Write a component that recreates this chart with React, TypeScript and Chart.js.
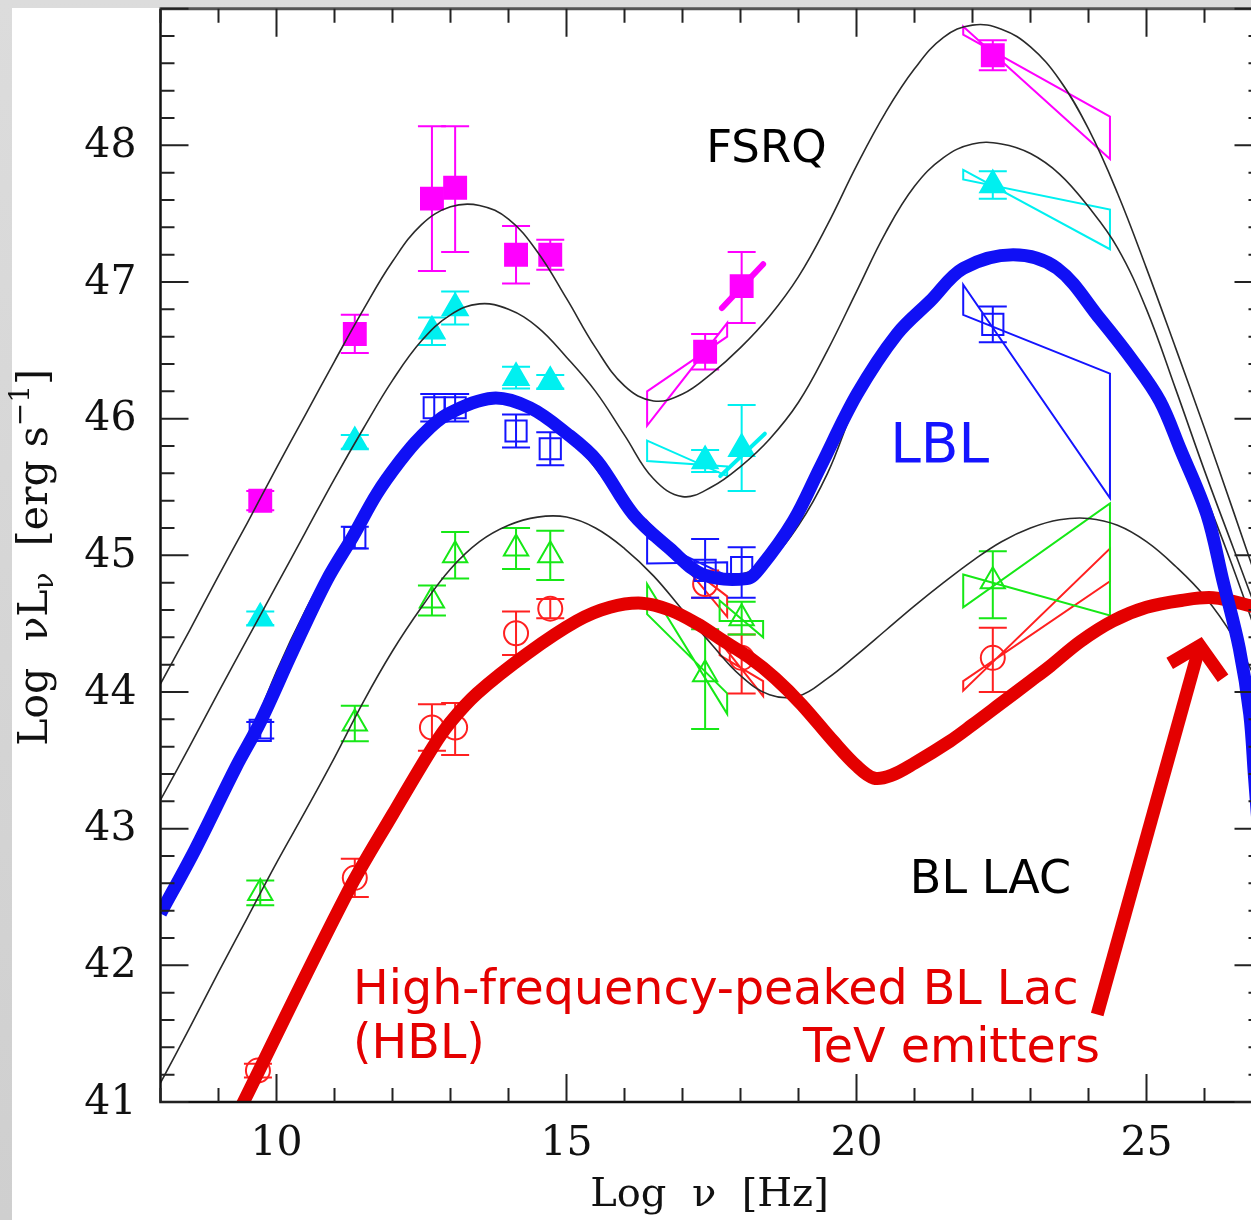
import React, { useEffect, useRef } from 'react';
import { Chart, registerables } from 'chart.js';

Chart.register(...registerables);

// ---------------- axes ----------------
const xRange = [8, 27];
const yRange = [41, 49];
const xTickLabels = [10, 15, 20, 25];
const yTickLabels = [41, 42, 43, 44, 45, 46, 47, 48];

// ---------------- model curves (thin black), sampled every 0.5 in log nu ----------------
const modelGridX = [8, 8.5, 9, 9.5, 10, 10.5, 11, 11.5, 12, 12.5, 13, 13.5, 14, 14.5, 15, 15.5, 16, 16.5, 17, 17.5, 18, 18.5, 19, 19.5, 20, 20.5, 21, 21.5, 22, 22.5, 23, 23.5, 24, 24.5, 25, 25.5, 26, 26.5, 27];
const fsrqTopModelY = [44.06, 44.45, 44.85, 45.24, 45.64, 46.03, 46.42, 46.8, 47.15, 47.42, 47.55, 47.56, 47.46, 47.22, 46.88, 46.52, 46.24, 46.13, 46.18, 46.33, 46.52, 46.75, 47.04, 47.42, 47.85, 48.24, 48.56, 48.79, 48.88, 48.85, 48.72, 48.48, 48.12, 47.65, 47.1, 46.52, 45.93, 45.32, 44.7];
const fsrqLowModelY = [43.21, 43.6, 44.0, 44.39, 44.78, 45.17, 45.56, 45.93, 46.28, 46.57, 46.76, 46.84, 46.8, 46.67, 46.45, 46.2, 45.88, 45.56, 45.43, 45.5, 45.65, 45.85, 46.12, 46.5, 46.93, 47.36, 47.7, 47.91, 48.01, 48.01, 47.94, 47.79, 47.55, 47.25, 46.8, 46.22, 45.62, 45.05, 44.48];
const lblModelY = [42.4, 42.75, 43.12, 43.62, 44.15, 44.6, 44.98, 45.33, 45.62, 45.86, 46.05, 46.14, 46.14, 46.05, 45.88, 45.64, 45.35, 45.12, 44.96, 44.87, 44.86, 44.97, 45.22, 45.6, 46.12, 46.48, 46.74, 46.96, 47.12, 47.19, 47.17, 47.05, 46.87, 46.6, 46.3, 45.92, 45.45, 44.9, 44.3];
const blLacModelY = [41.14, 41.54, 41.95, 42.35, 42.75, 43.13, 43.52, 43.93, 44.3, 44.62, 44.9, 45.1, 45.22, 45.28, 45.28, 45.2, 45.05, 44.85, 44.6, 44.35, 44.12, 43.98, 43.97, 44.1, 44.27, 44.45, 44.63, 44.8, 44.96, 45.1, 45.2, 45.26, 45.27, 45.22, 45.1, 44.92, 44.7, 44.4, 44.0];

// ---------------- thick sketched curves ----------------
const lblThickX = [8, 8.6, 9.3, 9.72, 10.28, 10.87, 11.32, 11.73, 12.13, 12.47, 12.94, 13.73, 14.37, 15.01, 15.53, 16.15, 16.78, 17.35, 18.11, 18.34, 18.91, 19.37, 20.01, 20.7, 21.27, 21.84, 22.7, 23.46, 24.2, 24.77, 25.23, 25.58, 26.04, 26.32, 26.6, 26.78, 26.86, 27];
const lblThickY = [42.38, 42.85, 43.45, 43.78, 44.3, 44.82, 45.14, 45.45, 45.69, 45.86, 46.03, 46.15, 46.08, 45.89, 45.69, 45.3, 45.05, 44.86, 44.83, 44.91, 45.25, 45.64, 46.18, 46.62, 46.86, 47.1, 47.2, 47.1, 46.73, 46.42, 46.13, 45.78, 45.3, 44.81, 44.32, 43.84, 43.39, 42.6];

const hblThickX = [9.35, 11.22, 12.01, 12.7, 13.0, 13.46, 14.32, 15.18, 15.75, 16.3, 16.78, 17.25, 17.65, 18.16, 18.6, 19.05, 19.6, 20.0, 20.3, 20.6, 21.0, 21.61, 22.0, 22.47, 23.0, 23.34, 23.86, 24.42, 25.0, 25.6, 26.15, 26.8, 27];
const hblThickY = [40.93, 42.53, 43.11, 43.6, 43.78, 43.99, 44.28, 44.52, 44.62, 44.65, 44.6, 44.5, 44.39, 44.25, 44.1, 43.91, 43.64, 43.46, 43.37, 43.39, 43.48, 43.64, 43.76, 43.91, 44.08, 44.19, 44.37, 44.52, 44.62, 44.67, 44.69, 44.63, 44.6];

// ---------------- data points ----------------
const magentaX = [9.72, 11.35, 12.68, 13.08, 14.13, 14.72, 17.39, 18.02, 22.35];
const magentaY = [45.4, 46.62, 47.61, 47.69, 47.2, 47.2, 46.49, 46.97, 48.66];
const magentaErrUp = [0.07, 0.14, 0.53, 0.45, 0.21, 0.11, 0.13, 0.25, 0.11];
const magentaErrDown = [0.07, 0.14, 0.53, 0.47, 0.21, 0.11, 0.13, 0.27, 0.11];

const cyanX = [9.72, 11.35, 12.68, 13.08, 14.13, 14.72, 17.39, 18.02, 22.35];
const cyanY = [44.54, 45.83, 46.64, 46.81, 46.3, 46.27, 45.69, 45.78, 47.71];
const cyanErrUp = [0.05, 0.05, 0.1, 0.12, 0.08, 0.05, 0.08, 0.32, 0.1];
const cyanErrDown = [0.05, 0.05, 0.1, 0.12, 0.08, 0.05, 0.08, 0.31, 0.1];

const blueX = [9.72, 11.35, 12.72, 13.08, 14.13, 14.72, 17.39, 18.02, 22.35];
const blueY = [43.72, 45.13, 46.08, 46.08, 45.91, 45.78, 44.89, 44.91, 46.69];
const blueErrUp = [0.06, 0.08, 0.1, 0.1, 0.12, 0.12, 0.23, 0.15, 0.13];
const blueErrDown = [0.06, 0.08, 0.1, 0.1, 0.12, 0.12, 0.2, 0.22, 0.13];

const greenX = [9.72, 11.35, 12.68, 13.08, 14.13, 14.72, 17.39, 18.02, 22.35];
const greenY = [42.53, 43.77, 44.67, 45.0, 45.05, 45.0, 44.13, 44.54, 44.81];
const greenErrUp = [0.09, 0.13, 0.11, 0.17, 0.15, 0.18, 0.33, 0.12, 0.22];
const greenErrDown = [0.09, 0.13, 0.11, 0.17, 0.15, 0.18, 0.4, 0.12, 0.27];

const redX = [9.68, 11.35, 12.68, 13.08, 14.13, 14.72, 17.39, 18.02, 22.35];
const redY = [41.23, 42.64, 43.74, 43.74, 44.43, 44.61, 44.79, 44.25, 44.25];
const redErrUp = [0.05, 0.14, 0.17, 0.18, 0.16, 0.07, 0.1, 0.17, 0.22];
const redErrDown = [0.05, 0.14, 0.17, 0.2, 0.16, 0.07, 0.1, 0.26, 0.25];

// ---------------- spectral bow-ties: [leftTop, leftBottom, rightTop, rightBottom] ----------------
const gammaBowX = [21.84, 24.37];
const gammaBowMagenta = [48.87, 48.81, 48.21, 47.9];
const gammaBowCyan = [47.82, 47.75, 47.53, 47.24];
const gammaBowBlue = [46.98, 46.76, 46.33, 45.42];
const gammaBowGreen = [44.86, 44.62, 45.38, 44.56];
const gammaBowRed = [44.08, 44.01, 45.05, 44.81];

const xrayBowX = [16.39, 17.77];
const xrayBowMagenta = [46.2, 45.95, 46.7, 46.6];
const xrayBowCyan = [45.84, 45.69, 45.65, 45.58];
const xrayBowBlue = [45.13, 44.94, 44.95, 44.85];
const xrayBowRed = [45.25, 45.15, 44.7, 44.55];
const xrayBowGreen = [44.79, 44.57, 43.99, 43.84];

const hardXrayBowX = [17.64, 18.39];
const hardXrayBowGreen = [44.67, 44.52, 44.52, 44.4];
const hardXrayBowRed = [44.37, 44.27, 44.08, 43.97];

// hard X-ray slopes: [x0, y0, x1, y1]
const magentaSlope = [17.68, 46.81, 18.39, 47.13];
const cyanSlope = [17.65, 45.58, 18.42, 45.89];

// annotation arrow (data coords): tail, tip, wing left, wing right
const arrowX = [24.15, 25.92, 25.4, 26.32];
const arrowY = [41.64, 44.34, 44.21, 44.1];

const CANVAS_W = 1300;
const CANVAS_H = 1220;

const MAGENTA = '#ff00ff';
const CYAN = '#00f0f0';
const BLUE = '#1414ff';
const GREEN = '#16e816';
const RED = '#ff2020';
const THICK_RED = '#e40000';
const THICK_BLUE = '#1010f5';
const SERIF = '"DejaVu Serif", serif';
const SANS = '"DejaVu Sans", sans-serif';

function pts(xs: number[], ys: number[]) {
  return xs.map((x, i) => ({ x, y: ys[i] }));
}

function curve(xs: number[], ys: number[], color: string, width: number, order: number, tension: number) {
  return {
    data: pts(xs, ys),
    showLine: true,
    borderColor: color,
    borderWidth: width,
    pointRadius: 0,
    tension,
    cubicInterpolationMode: 'default',
    borderCapStyle: 'butt',
    borderJoinStyle: 'round',
    clip: 0,
    order,
  };
}

function markers(xs: number[], ys: number[], style: string, radius: number, color: string, filled: boolean) {
  return {
    data: pts(xs, ys),
    showLine: false,
    pointStyle: style,
    pointRadius: radius,
    pointBorderWidth: 2,
    pointBorderColor: color,
    pointBackgroundColor: filled ? color : 'rgba(0,0,0,0)',
    order: 10,
  };
}

const overlayPlugin = {
  id: 'overlay',
  beforeDraw(chart: any) {
    const ctx = chart.ctx;
    ctx.save();
    const g = ctx.createLinearGradient(0, 0, 0, CANVAS_H);
    g.addColorStop(0, '#dcdcdc');
    g.addColorStop(1, '#cfcfcf');
    ctx.fillStyle = g;
    ctx.fillRect(0, 0, CANVAS_W, CANVAS_H);
    ctx.fillStyle = '#ffffff';
    ctx.fillRect(12, 8, CANVAS_W - 12, CANVAS_H - 8);
    ctx.restore();
  },
  beforeDatasetsDraw(chart: any) {
    const ctx = chart.ctx;
    const xs = chart.scales.x;
    const ys = chart.scales.y;
    const px = (v: number) => xs.getPixelForValue(v);
    const py = (v: number) => ys.getPixelForValue(v);
    ctx.save();
    const bow = (bx: number[], v: number[], color: string, lw: number) => {
      ctx.beginPath();
      ctx.moveTo(px(bx[0]), py(v[0]));
      ctx.lineTo(px(bx[1]), py(v[3]));
      ctx.lineTo(px(bx[1]), py(v[2]));
      ctx.lineTo(px(bx[0]), py(v[1]));
      ctx.closePath();
      ctx.strokeStyle = color;
      ctx.lineWidth = lw;
      ctx.lineJoin = 'miter';
      ctx.stroke();
    };
    bow(gammaBowX, gammaBowMagenta, MAGENTA, 2);
    bow(gammaBowX, gammaBowCyan, CYAN, 2);
    bow(gammaBowX, gammaBowBlue, BLUE, 2);
    bow(gammaBowX, gammaBowRed, RED, 2);
    bow(gammaBowX, gammaBowGreen, GREEN, 2);
    bow(xrayBowX, xrayBowMagenta, MAGENTA, 2);
    bow(xrayBowX, xrayBowCyan, CYAN, 2);
    bow(xrayBowX, xrayBowRed, RED, 2);
    bow(xrayBowX, xrayBowBlue, BLUE, 2);
    bow(xrayBowX, xrayBowGreen, GREEN, 2);
    bow(hardXrayBowX, hardXrayBowGreen, GREEN, 2);
    bow(hardXrayBowX, hardXrayBowRed, RED, 2);

    const seg = (s: number[], color: string, lw: number) => {
      ctx.beginPath();
      ctx.moveTo(px(s[0]), py(s[1]));
      ctx.lineTo(px(s[2]), py(s[3]));
      ctx.strokeStyle = color;
      ctx.lineWidth = lw;
      ctx.lineCap = 'round';
      ctx.stroke();
    };
    seg(magentaSlope, MAGENTA, 6);
    seg(cyanSlope, CYAN, 4);

    const err = (X: number[], Y: number[], up: number[], dn: number[], color: string) => {
      ctx.strokeStyle = color;
      ctx.lineWidth = 2;
      ctx.lineCap = 'butt';
      X.forEach((x, i) => {
        const cx = px(x);
        const t = py(Y[i] + up[i]);
        const b = py(Y[i] - dn[i]);
        ctx.beginPath();
        ctx.moveTo(cx, t);
        ctx.lineTo(cx, b);
        ctx.moveTo(cx - 14, t);
        ctx.lineTo(cx + 14, t);
        ctx.moveTo(cx - 14, b);
        ctx.lineTo(cx + 14, b);
        ctx.stroke();
      });
    };
    err(redX, redY, redErrUp, redErrDown, RED);
    err(greenX, greenY, greenErrUp, greenErrDown, GREEN);
    err(blueX, blueY, blueErrUp, blueErrDown, BLUE);
    err(cyanX, cyanY, cyanErrUp, cyanErrDown, CYAN);
    err(magentaX, magentaY, magentaErrUp, magentaErrDown, MAGENTA);
    ctx.restore();
  },
  afterDatasetsDraw(chart: any) {
    const ctx = chart.ctx;
    const xs = chart.scales.x;
    const ys = chart.scales.y;
    const px = (v: number) => xs.getPixelForValue(v);
    const py = (v: number) => ys.getPixelForValue(v);
    const { left, right, top, bottom } = chart.chartArea;
    ctx.save();

    // arrow
    ctx.strokeStyle = THICK_RED;
    ctx.lineWidth = 13;
    ctx.lineCap = 'butt';
    ctx.lineJoin = 'miter';
    ctx.beginPath();
    ctx.moveTo(px(arrowX[0]), py(arrowY[0]));
    ctx.lineTo(px(arrowX[1]), py(arrowY[1]));
    ctx.stroke();
    ctx.beginPath();
    ctx.moveTo(px(arrowX[2]), py(arrowY[2]));
    ctx.lineTo(px(arrowX[1]), py(arrowY[1]));
    ctx.lineTo(px(arrowX[3]), py(arrowY[3]));
    ctx.stroke();

    // frame
    ctx.lineCap = 'butt';
    ctx.strokeStyle = '#111';
    ctx.lineWidth = 2.5;
    ctx.beginPath();
    ctx.moveTo(left, top);
    ctx.lineTo(left, bottom);
    ctx.lineTo(right, bottom);
    ctx.lineTo(right, top);
    ctx.stroke();
    ctx.strokeStyle = '#555';
    ctx.lineWidth = 3;
    ctx.beginPath();
    ctx.moveTo(left - 1, top);
    ctx.lineTo(right, top);
    ctx.stroke();

    // ticks
    ctx.strokeStyle = '#222';
    ctx.lineWidth = 2;
    ctx.beginPath();
    for (let v = xRange[0]; v <= xRange[1]; v += 1) {
      const x = px(v);
      const len = v % 5 === 0 ? 28 : 14;
      ctx.moveTo(x, bottom);
      ctx.lineTo(x, bottom - len);
      ctx.moveTo(x, top);
      ctx.lineTo(x, top + len);
    }
    for (let k = 0; k <= (yRange[1] - yRange[0]) * 5; k++) {
      const v = yRange[0] + k * 0.2;
      const y = py(v);
      const len = k % 5 === 0 ? 28 : 14;
      ctx.moveTo(left, y);
      ctx.lineTo(left + len, y);
      ctx.moveTo(right, y);
      ctx.lineTo(right - len, y);
    }
    ctx.stroke();

    // tick labels
    ctx.fillStyle = '#111';
    ctx.font = `41px ${SERIF}`;
    ctx.textAlign = 'right';
    ctx.textBaseline = 'middle';
    yTickLabels.forEach((v) => ctx.fillText(String(v), left - 24, py(v) + 1));
    ctx.textAlign = 'center';
    ctx.textBaseline = 'top';
    xTickLabels.forEach((v) => ctx.fillText(String(v), px(v), bottom + 22));

    // axis titles
    ctx.font = `40px ${SERIF}`;
    ctx.textAlign = 'center';
    ctx.textBaseline = 'middle';
    ctx.fillText('Log  \u03BD  [Hz]', (left + right) / 2 - 2, 1196);

    // y title, rotated, with sub/superscripts
    ctx.save();
    ctx.translate(36, (top + bottom) / 2 + 2);
    ctx.rotate(-Math.PI / 2);
    const big = `41px ${SERIF}`;
    const small = `28px ${SERIF}`;
    const parts: [string, string, number][] = [
      ['Log  \u03BDL', big, 0],
      ['\u03BD', small, 10],
      ['  [erg s', big, 0],
      ['\u22121', small, -14],
      [']', big, 0],
    ];
    let total = 0;
    parts.forEach(([t, f]) => { ctx.font = f; total += ctx.measureText(t).width; });
    let cx = -total / 2;
    ctx.textAlign = 'left';
    ctx.textBaseline = 'middle';
    parts.forEach(([t, f, dy]) => {
      ctx.font = f;
      ctx.fillText(t, cx, dy);
      cx += ctx.measureText(t).width;
    });
    ctx.restore();

    // annotations
    ctx.textAlign = 'left';
    ctx.textBaseline = 'alphabetic';
    ctx.fillStyle = '#000';
    ctx.font = `45px ${SANS}`;
    ctx.fillText('FSRQ', px(17.41), py(47.88));
    ctx.font = `46px ${SANS}`;
    ctx.fillText('BL LAC', px(20.92), py(42.53));
    ctx.fillStyle = BLUE;
    ctx.font = `55px ${SANS}`;
    ctx.fillText('LBL', px(20.58), py(45.68));
    ctx.fillStyle = THICK_RED;
    ctx.font = `47.5px ${SANS}`;
    ctx.fillText('High-frequency-peaked BL Lac', px(11.32), py(41.72));
    ctx.fillText('(HBL)', px(11.32), py(41.32));
    ctx.textAlign = 'right';
    ctx.fillText('TeV emitters', px(24.2), py(41.29));

    ctx.restore();
  },
};

export default function App() {
  const canvasRef = useRef<HTMLCanvasElement | null>(null);

  useEffect(() => {
    const canvas = canvasRef.current;
    if (!canvas) return;
    const datasets: any[] = [
      markers(magentaX, magentaY, 'rect', 15.5, MAGENTA, true),
      markers(cyanX, cyanY, 'triangle', 14.5, CYAN, true),
      markers(blueX, blueY, 'rect', 15, BLUE, false),
      markers(greenX, greenY, 'triangle', 14, GREEN, false),
      markers(redX, redY, 'circle', 12, RED, false),
      curve(modelGridX, fsrqTopModelY, '#2a2a2a', 1.6, 5, 0.4),
      curve(modelGridX, fsrqLowModelY, '#2a2a2a', 1.6, 5, 0.4),
      curve(modelGridX, lblModelY, '#2a2a2a', 1.6, 5, 0.4),
      curve(modelGridX, blLacModelY, '#2a2a2a', 1.6, 5, 0.4),
      curve(hblThickX, hblThickY, THICK_RED, 13, 2, 0.35),
      curve(lblThickX, lblThickY, THICK_BLUE, 13, 1, 0.35),
    ];
    const chart = new Chart(canvas, {
      type: 'scatter',
      data: { datasets },
      options: {
        responsive: false,
        animation: false,
        devicePixelRatio: 1,
        events: [],
        layout: {
          autoPadding: false,
          padding: { left: 160.5, top: 8.7, right: CANVAS_W - 1262.5, bottom: CANVAS_H - 1102 },
        },
        scales: {
          x: { type: 'linear', min: xRange[0], max: xRange[1], display: false },
          y: { type: 'linear', min: yRange[0], max: yRange[1], display: false },
        },
        plugins: {
          legend: { display: false },
          tooltip: { enabled: false },
        },
      } as any,
      plugins: [overlayPlugin as any],
    });
    return () => chart.destroy();
  }, []);

  return (
    <div
      style={{
        position: 'fixed',
        left: 0,
        top: 0,
        width: 1251,
        height: 1220,
        overflow: 'hidden',
        background: '#ffffff',
      }}
    >
      <canvas ref={canvasRef} width={CANVAS_W} height={CANVAS_H} style={{ width: CANVAS_W, height: CANVAS_H, display: 'block' }} />
    </div>
  );
}
